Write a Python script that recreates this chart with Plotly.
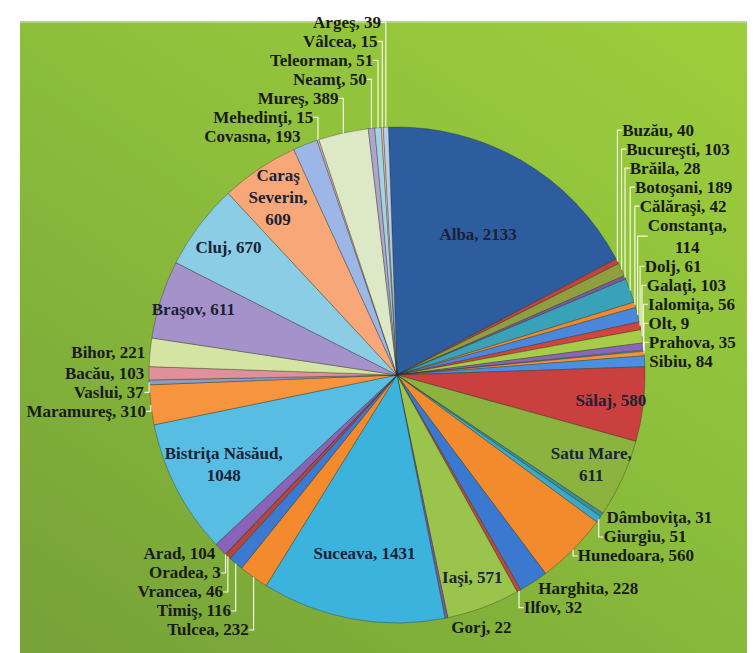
import base64
import plotly.graph_objects as go

# ---- data (clockwise from 12 o'clock) ----
counties = [
    "Alba", "Buzău", "Bucureşti", "Brăila", "Botoşani", "Călăraşi", "Constanţa",
    "Dolj", "Galaţi", "Ialomiţa", "Olt", "Prahova", "Sibiu", "Sălaj", "Satu Mare",
    "Dâmboviţa", "Giurgiu", "Hunedoara", "Harghita", "Ilfov", "Iaşi", "Gorj",
    "Suceava", "Tulcea", "Timiş", "Vrancea", "Oradea", "Arad", "Bistriţa Năsăud",
    "Maramureş", "Vaslui", "Bacău", "Bihor", "Braşov", "Cluj", "Caraş Severin",
    "Covasna", "Mehedinţi", "Mureş", "Neamţ", "Teleorman", "Vâlcea", "Argeş",
]
counts = [
    2133, 40, 103, 28, 189, 42, 114,
    61, 103, 56, 9, 35, 84, 580, 611,
    31, 51, 560, 228, 32, 571, 22,
    1431, 232, 116, 46, 3, 104, 1048,
    310, 37, 103, 221, 611, 670, 609,
    193, 15, 389, 50, 51, 15, 39,
]

# ---- styling ----
colors = [
    "#2d5d9f", "#c0453e", "#8f9f3f", "#7a5aa8", "#3aa2b8", "#ef8a34", "#4a88dc",
    "#d0463f", "#a6cc48", "#8a66b6", "#3ab0c8", "#f29240", "#4a90e2", "#c9403e", "#8db33f",
    "#3a8fa0", "#3ba9c8", "#f28a2e", "#3b78cf", "#b84a3e", "#9bc44c", "#7a5aa0",
    "#3cb3dc", "#f38a2e", "#3c7ad2", "#b8443f", "#9bbb59", "#8a62b8", "#57bde2",
    "#f7943e", "#8c9cc8", "#e0909a", "#d4e4a2", "#a692cb", "#8ccde6", "#f8a878",
    "#9cb6e8", "#e4b0b0", "#dce8c6", "#aea4cc", "#a6d2e6", "#fbc8a4", "#b4d0ee",
]
inside_names = {"Alba", "Sălaj", "Satu Mare", "Iaşi", "Suceava", "Bistriţa Năsăud",
                "Braşov", "Cluj", "Caraş Severin"}
wrap_names = {"Satu Mare", "Bistriţa Năsăud", "Constanţa"}

texts = []
for n, v in zip(counties, counts):
    if n == "Caraş Severin":
        texts.append(n.replace(" ", "<br>") + f",<br>{v}")
    elif n in wrap_names:
        texts.append(f"{n},<br>{v}")
    else:
        texts.append(f"{n}, {v}")
positions = ["inside" if n in inside_names else "outside" for n in counties]

W, H = 755, 653
CX, CY, R = 389, 367, 248
fam = "Liberation Serif, Times New Roman, serif"
in_font = dict(family=fam, size=17, color="#1a2235", weight="bold")
out_font = dict(family=fam, size=16, color="#1a1a1a", weight="bold")

fig = go.Figure(go.Pie(
    labels=counties,
    values=counts,
    text=texts,
    texttemplate="%{text}",
    textposition=positions,
    insidetextorientation="horizontal",
    sort=False,
    direction="clockwise",
    rotation=-2,
    marker=dict(colors=colors, line=dict(color="rgba(40,40,40,0.5)", width=0.7)),
    textfont=out_font,
    insidetextfont=in_font,
    outsidetextfont=out_font,
    automargin=False,
    showlegend=False,
    hoverinfo="label+value",
    domain=dict(x=[(CX - R) / W, (CX + R) / W],
                y=[1 - (CY + R) / H, 1 - (CY - R) / H]),
))

svg = f"""<svg xmlns='http://www.w3.org/2000/svg' width='{W}' height='{H}'>
<defs><linearGradient id='g' x1='0.9' y1='0' x2='0.1' y2='1'>
<stop offset='0' stop-color='#9ccd3c'/><stop offset='0.45' stop-color='#8cbe3c'/>
<stop offset='1' stop-color='#77a338'/></linearGradient></defs>
<rect x='12' y='13' width='{W-12}' height='{H-13}' fill='url(#g)'/>
<rect x='12' y='13' width='{W-12}' height='2' fill='#c8e08a' opacity='0.7'/>
</svg>"""
uri = "data:image/svg+xml;base64," + base64.b64encode(svg.encode()).decode()

fig.update_layout(
    width=W, height=H,
    margin=dict(l=0, r=0, t=0, b=0),
    paper_bgcolor="white",
    uniformtext=dict(minsize=17, mode="show"),
    images=[dict(source=uri, xref="paper", yref="paper", x=0, y=1,
                 sizex=1, sizey=1, sizing="stretch", layer="below",
                 xanchor="left", yanchor="top")],
)

post = ("document.querySelectorAll('path.textline').forEach(function(p){"
        "p.style.stroke='rgba(250,252,235,0.95)';p.style.strokeWidth='1.2px';});")
fig.write_html("out.html", post_script=post)
